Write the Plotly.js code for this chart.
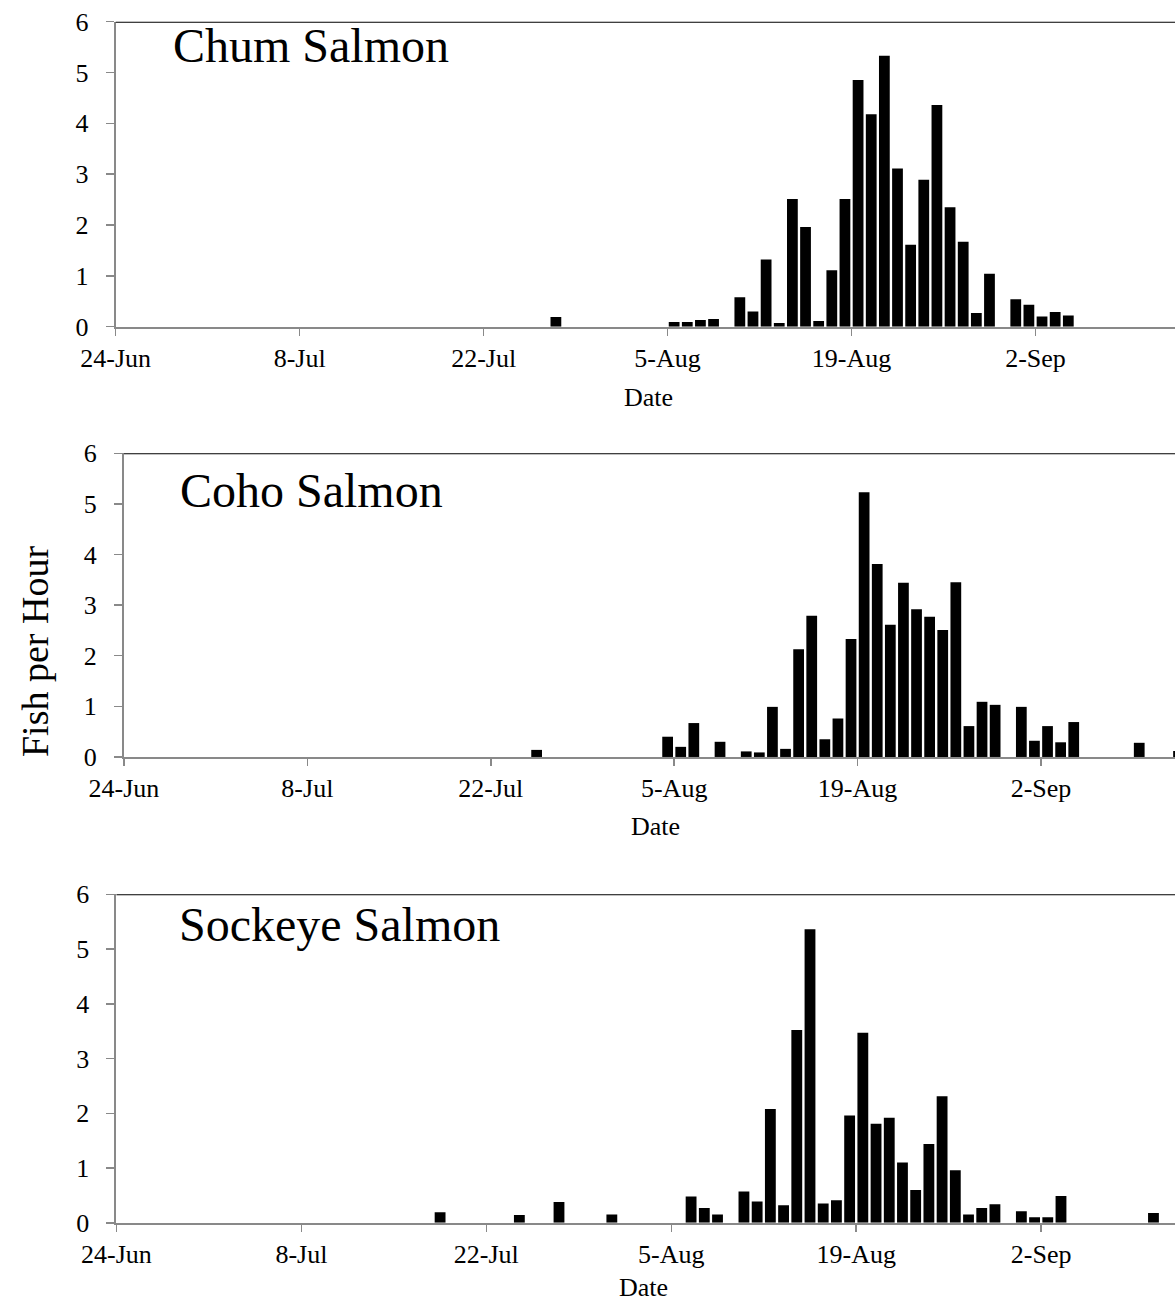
<!DOCTYPE html>
<html>
<head>
<meta charset="utf-8">
<script src="https://cdn.plot.ly/plotly-3.0.1.min.js"></script>
<style>html,body{margin:0;padding:0;background:#fff;}#chart{width:1175px;height:1304px;}</style>
</head>
<body>
<div id="chart"></div>
<script>
// ---- Data (fish per hour by date) ----
const chumDates = ['2013-07-27','2013-08-05','2013-08-06','2013-08-07','2013-08-08','2013-08-10','2013-08-11','2013-08-12','2013-08-13','2013-08-14','2013-08-15','2013-08-16','2013-08-17','2013-08-18','2013-08-19','2013-08-20','2013-08-21','2013-08-22','2013-08-23','2013-08-24','2013-08-25','2013-08-26','2013-08-27','2013-08-28','2013-08-29','2013-08-31','2013-09-01','2013-09-02','2013-09-03','2013-09-04'];
const chumValues = [0.19,0.09,0.09,0.13,0.15,0.58,0.30,1.32,0.07,2.51,1.96,0.11,1.11,2.51,4.85,4.18,5.33,3.11,1.61,2.89,4.36,2.35,1.67,0.27,1.04,0.54,0.43,0.20,0.29,0.22];

const cohoDates = ['2013-07-25','2013-08-04','2013-08-05','2013-08-06','2013-08-08','2013-08-10','2013-08-11','2013-08-12','2013-08-13','2013-08-14','2013-08-15','2013-08-16','2013-08-17','2013-08-18','2013-08-19','2013-08-20','2013-08-21','2013-08-22','2013-08-23','2013-08-24','2013-08-25','2013-08-26','2013-08-27','2013-08-28','2013-08-29','2013-08-31','2013-09-01','2013-09-02','2013-09-03','2013-09-04','2013-09-09','2013-09-12'];
const cohoValues = [0.14,0.40,0.20,0.67,0.30,0.11,0.09,0.99,0.16,2.13,2.79,0.35,0.76,2.33,5.23,3.81,2.61,3.44,2.92,2.77,2.51,3.45,0.61,1.09,1.03,0.99,0.32,0.61,0.29,0.69,0.28,0.12];

const sockeyeDates = ['2013-07-18','2013-07-24','2013-07-27','2013-07-31','2013-08-06','2013-08-07','2013-08-08','2013-08-10','2013-08-11','2013-08-12','2013-08-13','2013-08-14','2013-08-15','2013-08-16','2013-08-17','2013-08-18','2013-08-19','2013-08-20','2013-08-21','2013-08-22','2013-08-23','2013-08-24','2013-08-25','2013-08-26','2013-08-27','2013-08-28','2013-08-29','2013-08-31','2013-09-01','2013-09-02','2013-09-03','2013-09-10'];
const sockeyeValues = [0.19,0.14,0.38,0.15,0.48,0.27,0.15,0.57,0.39,2.08,0.32,3.52,5.36,0.35,0.41,1.96,3.47,1.81,1.92,1.10,0.60,1.44,2.31,0.96,0.15,0.27,0.34,0.21,0.10,0.10,0.49,0.18];

const panelTitles = ['Chum Salmon','Coho Salmon','Sockeye Salmon'];
const xTitle = 'Date';
const yTitle = 'Fish per Hour';
const axisStart = '2013-06-24';
const yTicks = [0,1,2,3,4,5,6];

// ---- Layout helpers ----
const DAY = 86400000;
const startMs = Date.parse(axisStart + 'T00:00:00Z');
function dateAt(days){ return new Date(startMs + days*DAY).toISOString().replace('T',' ').replace('Z',''); }

const FONT = 'Liberation Serif, Times New Roman, serif';
const GREY = '#898989';

const panels = [
  {dates: chumDates, values: chumValues, xdom:[0.0985,1], ydom:[0.7495,0.9834], endDay:80.62, title:[0.1455,0.9650], date:[0.5515,0.6950]},
  {dates: cohoDates, values: cohoValues, xdom:[0.1055,1], ydom:[0.4195,0.6524], endDay:80.23, title:[0.1515,0.6242], date:[0.5575,0.3660]},
  {dates: sockeyeDates, values: sockeyeValues, xdom:[0.0991,1], ydom:[0.0623,0.3142], endDay:80.13, title:[0.1505,0.2913], date:[0.5480,0.0125]}
];

const data = [];
const layout = {
  width:1175, height:1304,
  margin:{l:0,r:0,t:0,b:0},
  paper_bgcolor:'#fff', plot_bgcolor:'#fff',
  showlegend:false,
  bargap:0.18,
  font:{family:FONT, size:26, color:'#000'},
  annotations:[], shapes:[]
};

panels.forEach((p,i)=>{
  const n = i===0 ? '' : String(i+1);
  data.push({
    type:'bar', x:p.dates, y:p.values,
    xaxis:'x'+n, yaxis:'y'+n,
    xperiod:DAY, xperiodalignment:'middle',
    width:0.82*DAY,
    marker:{color:'#000', line:{width:0}},
    hoverinfo:'x+y'
  });
  layout['xaxis'+n] = {
    type:'date', domain:p.xdom, anchor:'y'+n,
    range:[dateAt(0), dateAt(p.endDay)],
    tick0:axisStart, dtick:14*DAY, tickformat:'%-d-%b',
    ticks:'outside', ticklen:7, tickwidth:1.5, tickcolor:GREY,
    showline:true, linecolor:GREY, linewidth:2,
    showgrid:false, zeroline:false, automargin:false,
    tickfont:{family:FONT, size:26, color:'#000'}
  };
  layout['yaxis'+n] = {
    domain:p.ydom, anchor:'x'+n, range:[0,6],
    tickvals:yTicks, ticks:'outside', ticklen:8, tickwidth:1.5, tickcolor:GREY,
    showline:true, linecolor:GREY, linewidth:2,
    showgrid:false, zeroline:false, automargin:false,
    ticklabelstandoff:12,
    tickfont:{family:FONT, size:26, color:'#000'}
  };
  layout.shapes.push({type:'line', xref:'x'+n+' domain', x0:0, x1:1, yref:'y'+n, y0:6, y1:6, line:{color:'#000', width:2}});
  layout.annotations.push({text:panelTitles[i], xref:'paper', yref:'paper', x:p.title[0], y:p.title[1], xanchor:'left', yanchor:'middle', showarrow:false, font:{family:FONT, size:48, color:'#000'}});
  layout.annotations.push({text:xTitle, xref:'paper', yref:'paper', x:p.date[0], y:p.date[1], xanchor:'center', yanchor:'middle', showarrow:false, font:{family:FONT, size:26, color:'#000'}});
});

layout.annotations.push({text:yTitle, xref:'paper', yref:'paper', x:0.0298, y:0.5, xanchor:'center', yanchor:'middle', textangle:-90, showarrow:false, font:{family:FONT, size:38, color:'#000'}});

Plotly.newPlot('chart', data, layout, {displayModeBar:false, staticPlot:true});
</script>
</body>
</html>
